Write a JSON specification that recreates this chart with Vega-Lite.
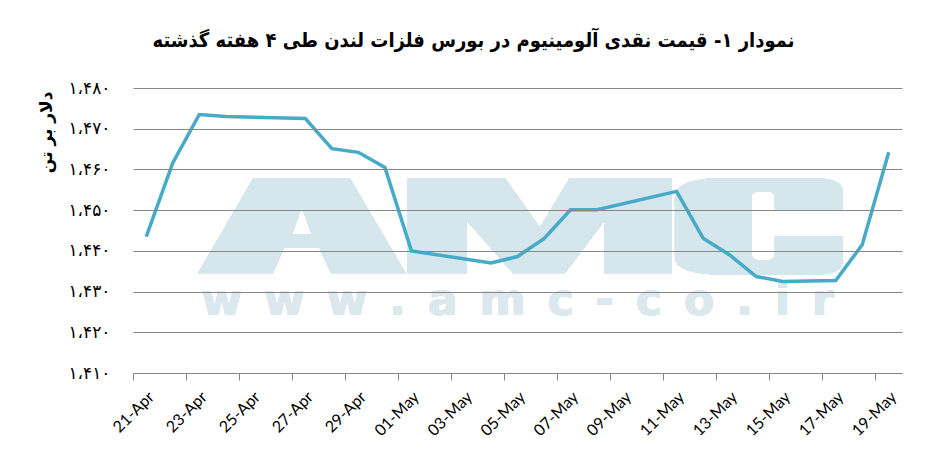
{
  "$schema": "https://vega.github.io/schema/vega-lite/v6.json",
  "autosize": {"type": "none"},
  "width": 769,
  "height": 285,
  "padding": {"left": 133, "top": 88, "right": 45, "bottom": 103},
  "background": "white",
  "title": {
    "text": "نمودار ۱- قیمت نقدی آلومینیوم در بورس فلزات لندن طی ۴ هفته گذشته",
    "font": "DejaVu Sans Condensed",
    "fontSize": 20,
    "fontWeight": "bold",
    "color": "#000000",
    "anchor": "middle",
    "frame": "group",
    "dx": -44,
    "offset": 28
  },
  "config": {
    "view": {"stroke": null}
  },
  "data": {
    "values": [
      {"date": "2020-04-21T12:00:00", "price": 1443.5},
      {"date": "2020-04-22T12:00:00", "price": 1461.6},
      {"date": "2020-04-23T12:00:00", "price": 1473.5},
      {"date": "2020-04-24T12:00:00", "price": 1473.0},
      {"date": "2020-04-27T12:00:00", "price": 1472.5},
      {"date": "2020-04-28T12:00:00", "price": 1465.1},
      {"date": "2020-04-29T12:00:00", "price": 1464.2},
      {"date": "2020-04-30T12:00:00", "price": 1460.5},
      {"date": "2020-05-01T12:00:00", "price": 1440.0},
      {"date": "2020-05-04T12:00:00", "price": 1437.0},
      {"date": "2020-05-05T12:00:00", "price": 1438.6},
      {"date": "2020-05-06T12:00:00", "price": 1443.0},
      {"date": "2020-05-07T12:00:00", "price": 1450.1},
      {"date": "2020-05-08T12:00:00", "price": 1450.1},
      {"date": "2020-05-11T12:00:00", "price": 1454.6},
      {"date": "2020-05-12T12:00:00", "price": 1443.1},
      {"date": "2020-05-13T12:00:00", "price": 1439.0},
      {"date": "2020-05-14T12:00:00", "price": 1433.7},
      {"date": "2020-05-15T12:00:00", "price": 1432.5},
      {"date": "2020-05-17T12:00:00", "price": 1432.7},
      {"date": "2020-05-18T12:00:00", "price": 1441.5},
      {"date": "2020-05-19T12:00:00", "price": 1464.2}
    ]
  },
  "encoding": {
    "x": {
      "type": "temporal",
      "scale": {
        "domain": [
          {"year": 2020, "month": 4, "date": 21},
          {"year": 2020, "month": 5, "date": 20}
        ],
        "nice": false
      },
      "axis": {
        "title": null,
        "grid": false,
        "values": [
          {"year": 2020, "month": 4, "date": 21},
          {"year": 2020, "month": 4, "date": 23},
          {"year": 2020, "month": 4, "date": 25},
          {"year": 2020, "month": 4, "date": 27},
          {"year": 2020, "month": 4, "date": 29},
          {"year": 2020, "month": 5, "date": 1},
          {"year": 2020, "month": 5, "date": 3},
          {"year": 2020, "month": 5, "date": 5},
          {"year": 2020, "month": 5, "date": 7},
          {"year": 2020, "month": 5, "date": 9},
          {"year": 2020, "month": 5, "date": 11},
          {"year": 2020, "month": 5, "date": 13},
          {"year": 2020, "month": 5, "date": 15},
          {"year": 2020, "month": 5, "date": 17},
          {"year": 2020, "month": 5, "date": 19}
        ],
        "format": "%d-%b",
        "labelAngle": -45,
        "labelAlign": "right",
        "labelBaseline": "middle",
        "labelFont": "Lato",
        "labelFontSize": 16,
        "labelColor": "#000000",
        "labelOffset": 18,
        "labelPadding": 14,
        "labelOverlap": false,
        "labelFlush": false,
        "domainColor": "#888888",
        "tickColor": "#888888",
        "tickSize": 7,
        "domainWidth": 1,
        "tickWidth": 1
      }
    },
    "y": {
      "type": "quantitative",
      "scale": {"domain": [1410, 1480], "zero": false, "nice": false},
      "axis": {
        "values": [1410, 1420, 1430, 1440, 1450, 1460, 1470, 1480],
        "labelExpr": "'۱،۴' + ['۰','۱','۲','۳','۴','۵','۶','۷','۸','۹'][floor(datum.value / 10) % 10] + '۰'",
        "labelFont": "DejaVu Sans",
        "labelFontSize": 17,
        "labelColor": "#000000",
        "labelPadding": 23,
        "domain": false,
        "ticks": false,
        "grid": true,
        "gridColor": "#878787",
        "gridWidth": 1,
        "zindex": 1,
        "title": "دلار بر تن",
        "titleFont": "DejaVu Sans",
        "titleFontSize": 17,
        "titleFontWeight": "bold",
        "titleColor": "#000000",
        "titleAngle": 270,
        "titleAlign": "right",
        "titleBaseline": "middle",
        "titleX": -87,
        "titleY": 3
      }
    }
  },
  "layer": [
    {
      "mark": {
        "type": "point",
        "shape": "M-0.9909,0.1326L-0.8203,-0.1605L-0.5189,-0.1605L-0.3465,0.1326L-0.5784,0.1326L-0.6147,0.0526L-0.7233,0.0526L-0.7586,0.1326ZM-0.669,-0.0721L-0.6988,0.0119L-0.638,0.0119ZM-0.3412,0.1326L-0.3412,-0.1605L-0.0371,-0.1605L0.0693,-0.0095L0.1608,-0.1605L0.4771,-0.1605L0.4771,0.1326L0.2696,0.1326L0.2696,-0.0302L0.1471,0.1326L-0.0141,0.1326L-0.1574,-0.0302L-0.1574,0.1326ZM1.0076,-0.0643L1.0076,-0.1233Q1.0076,-0.1626 0.913,-0.1626L0.6433,-0.1626Q0.4882,-0.1626 0.4882,-0.1016L0.4882,0.0814Q0.4882,0.1372 0.6433,0.1372L0.913,0.1372Q1.0076,0.1372 1.0076,0.0969L1.0076,0.0184L0.7983,0.0184L0.7983,0.0752Q0.7983,0.0938 0.762,0.0938Q0.726,0.0938 0.726,0.0752L0.726,-0.1078Q0.726,-0.1217 0.762,-0.1217Q0.7983,-0.1217 0.7983,-0.1078L0.7983,-0.0643Z",
        "size": 416025,
        "filled": true,
        "fill": "#d5e6ec",
        "fillOpacity": 1,
        "opacity": 1,
        "strokeWidth": 0
      },
      "encoding": {
        "x": {"datum": {"year": 2020, "month": 5, "date": 5, "hours": 12}, "type": "temporal"},
        "y": {"datum": 1445, "type": "quantitative"}
      }
    },
    {
      "mark": {
        "type": "text",
        "text": "w\u2002w\u2002w\u2002.\u2002a\u2002m\u2002c\u2002-\u2002c\u2002o\u2002.\u2002i\u2002r",
        "font": "DejaVu Sans",
        "fontWeight": "bold",
        "fontSize": 44,
        "align": "center",
        "baseline": "alphabetic",
        "color": "#dbe9ee",
        "opacity": 1
      },
      "encoding": {
        "x": {"datum": {"year": 2020, "month": 5, "date": 5, "hours": 12}, "type": "temporal"},
        "y": {"datum": 1424.3, "type": "quantitative"}
      }
    },
    {
      "mark": {
        "type": "line",
        "color": "#46aac8",
        "strokeWidth": 3.5,
        "strokeJoin": "miter"
      },
      "encoding": {
        "x": {"field": "date", "type": "temporal"},
        "y": {"field": "price", "type": "quantitative"}
      }
    }
  ]
}
